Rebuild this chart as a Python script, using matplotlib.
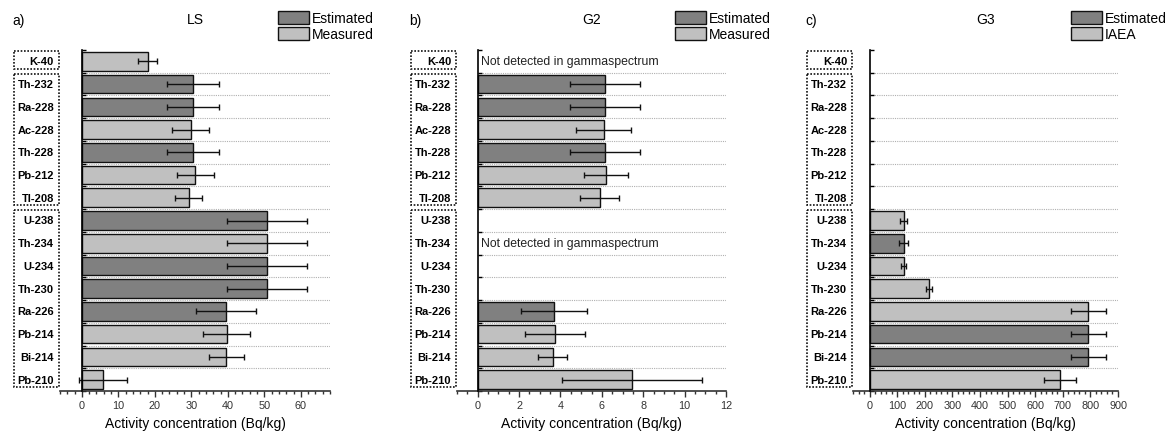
import numpy as np
import matplotlib
matplotlib.use('Agg')
import matplotlib.pyplot as plt
from matplotlib.patches import Rectangle, Patch
from matplotlib.transforms import blended_transform_factory

plt.rcParams['font.family'] = ['Liberation Sans', 'DejaVu Sans']

nuclides = ['K-40', 'Th-232', 'Ra-228', 'Ac-228', 'Th-228', 'Pb-212', 'Tl-208',
            'U-238', 'Th-234', 'U-234', 'Th-230', 'Ra-226', 'Pb-214', 'Bi-214', 'Pb-210']
groups = [(0, 0), (1, 6), (7, 14)]

# E = estimated (dark), M = measured / IAEA (light)
ls_values = [18.0, 30.4, 30.4, 29.8, 30.4, 31.1, 29.3, 50.7, 50.7, 50.7, 50.7, 39.5, 39.7, 39.5, 5.7]
ls_errors = [2.5, 7.2, 7.2, 5.1, 7.2, 5.0, 3.7, 11.0, 11.0, 11.0, 11.0, 8.1, 6.5, 4.8, 6.6]
ls_types = ['M', 'E', 'E', 'M', 'E', 'M', 'M', 'E', 'M', 'E', 'E', 'E', 'M', 'M', 'M']

g2_values = [None, 6.14, 6.14, 6.10, 6.14, 6.19, 5.89, None, None, None, None, 3.68, 3.75, 3.62, 7.46]
g2_errors = [None, 1.68, 1.68, 1.33, 1.68, 1.05, 0.95, None, None, None, None, 1.60, 1.44, 0.70, 3.40]
g2_types = [None, 'E', 'E', 'M', 'E', 'M', 'M', None, None, None, None, 'E', 'M', 'M', 'M']
g2_notes = [0, 8]

g3_values = [None] * 7 + [123, 123, 123, 216, 792, 792, 792, 691]
g3_errors = [None] * 7 + [13, 16, 10, 10, 64, 64, 64, 58]
g3_types = [None] * 7 + ['M', 'E', 'M', 'M', 'M', 'E', 'E', 'M']

note_text = 'Not detected in gammaspectrum'
colors = {'E': '#808080', 'M': '#c0c0c0'}

W, H = 1175, 435
fig = plt.figure(figsize=(W / 100, H / 100), dpi=100)

panels = [
    dict(letter='a)', title='LS', values=ls_values, errors=ls_errors, types=ls_types,
         notes=[], xlim=(-6, 68), major=10, minor=2, xmax_tick=60,
         left=60, right=330, legend=('Estimated', 'Measured'), leg_x=278),
    dict(letter='b)', title='G2', values=g2_values, errors=g2_errors, types=g2_types,
         notes=g2_notes, xlim=(-1, 12), major=2, minor=0.5, xmax_tick=12,
         left=457, right=726, legend=('Estimated', 'Measured'), leg_x=675),
    dict(letter='c)', title='G3', values=g3_values, errors=g3_errors, types=g3_types,
         notes=[], xlim=(-60, 900), major=100, minor=20, xmax_tick=900,
         left=853, right=1118, legend=('Estimated', 'IAEA'), leg_x=1071),
]

top_px, bottom_px = 51, 392
box_w = 46

for p in panels:
    ax = fig.add_axes([p['left'] / W, 1 - bottom_px / H,
                       (p['right'] - p['left']) / W, (bottom_px - top_px) / H])
    n = len(nuclides)
    y = np.arange(n)
    idx = [i for i in range(n) if p['values'][i] is not None]
    vals = [p['values'][i] for i in idx]
    errs = [p['errors'][i] for i in idx]
    cols = [colors[p['types'][i]] for i in idx]
    ax.barh(y[idx], vals, height=0.82, color=cols, edgecolor='#111111', linewidth=1, zorder=3)
    ax.errorbar(vals, y[idx], xerr=errs, fmt='none', ecolor='#111111',
                elinewidth=1, capsize=2.5, capthick=1, zorder=4)

    ax.set_xlim(*p['xlim'])
    ax.set_ylim(n - 0.5, -0.48)

    # dotted separators between rows
    bounds = np.arange(0.5, n - 0.5, 1)
    ax.hlines(bounds, 0, p['xlim'][1], colors='#b0b0b0', linestyles=(0, (1, 1)),
              linewidth=0.8, zorder=1)

    for s in ['top', 'right']:
        ax.spines[s].set_visible(False)
    ax.spines['left'].set_position(('data', 0))
    ax.spines['left'].set_zorder(5)
    ax.spines['left'].set_linewidth(1.2)
    ax.spines['bottom'].set_linewidth(1.2)
    ax.spines['bottom'].set_color('#333333')

    ax.set_yticks(np.arange(-0.5, n, 1))
    ax.set_yticklabels([])
    ax.tick_params(axis='y', direction='in', length=3, width=1)

    ax.set_xticks(np.arange(0, p['xmax_tick'] + p['major'] / 2, p['major']))
    ax.set_xticks(np.arange(p['xlim'][0], p['xlim'][1] + 1e-9, p['minor']), minor=True)
    ax.tick_params(axis='x', which='major', length=4, width=1, color='#333333',
                   labelsize=7.8, labelcolor='#333333', pad=2.5)
    ax.tick_params(axis='x', which='minor', length=2.5, width=1, color='#333333')
    ax.set_xlabel('Activity concentration (Bq/kg)', fontsize=10, labelpad=4)

    ax_w = p['right'] - p['left']
    tr = blended_transform_factory(ax.transAxes, ax.transData)
    for i, name in enumerate(nuclides):
        ax.text(-6 / ax_w, i, name, transform=tr, ha='right', va='center',
                fontsize=8, fontweight='bold', clip_on=False)
    for a, b in groups:
        top = a - 0.45
        bot = b + 0.33
        ax.add_patch(Rectangle((-box_w / ax_w, top), box_w / ax_w - 1 / ax_w, bot - top,
                               transform=tr, fill=False, edgecolor='#111111',
                               linestyle=(0, (1, 1)), linewidth=1.2, clip_on=False))

    for r in p['notes']:
        ax.text(p['xlim'][1] * 0.015, r, note_text, ha='left', va='center', fontsize=8.8,
                color='#222222')

    ax.text(0.5, 1 - 20 / H, p['title'], transform=blended_transform_factory(ax.transAxes, fig.transFigure),
            ha='center', va='center', fontsize=10)
    fig.text((p['left'] - box_w - 2) / W, 1 - 21 / H, p['letter'], ha='left', va='center', fontsize=10)

    handles = [Patch(facecolor=colors['E'], edgecolor='#111111', linewidth=1),
               Patch(facecolor=colors['M'], edgecolor='#111111', linewidth=1)]
    fig.legend(handles, p['legend'], loc='upper left',
               bbox_to_anchor=(p['leg_x'] / W, 1 - 12 / H), bbox_transform=fig.transFigure,
               frameon=False, fontsize=10, handlelength=2.2, handleheight=1.1,
               handletextpad=0.25, labelspacing=0.1, borderpad=0, borderaxespad=0)

fig.savefig('out.png', dpi=100)
